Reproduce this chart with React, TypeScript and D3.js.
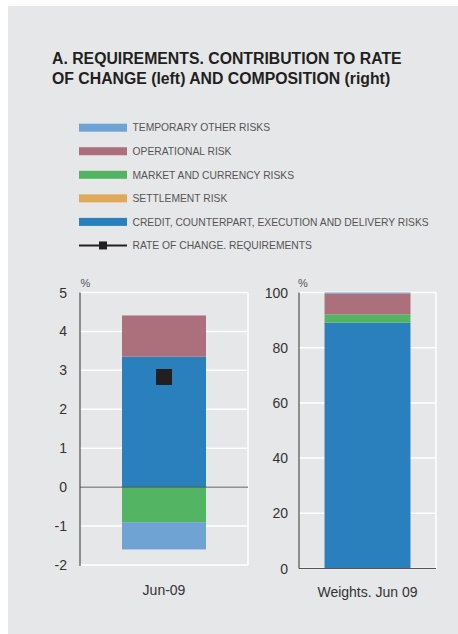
import React from "react";
import * as d3 from "d3";

const seriesNames = [
  "TEMPORARY OTHER RISKS",
  "OPERATIONAL RISK",
  "MARKET AND CURRENCY RISKS",
  "SETTLEMENT RISK",
  "CREDIT, COUNTERPART, EXECUTION AND DELIVERY RISKS",
];
const seriesColors = ["#6fa3d4", "#ab707c", "#53b563", "#e0a85a", "#2a80bd"];
const lineName = "RATE OF CHANGE. REQUIREMENTS";

// contribution to rate of change (left), Jun-09
const contribution = [-0.7, 1.06, -0.9, 0, 3.35];
const rateOfChange = [2.83];
const leftCategories = ["Jun-09"];
const leftTicks = [-2, -1, 0, 1, 2, 3, 4, 5];

// composition weights (right)
const weights = [0.3, 7.6, 3.0, 0, 89.1];
const rightCategories = ["Weights. Jun 09"];
const rightTicks = [0, 20, 40, 60, 80, 100];

const FONT = "'Liberation Sans', Arial, Helvetica, sans-serif";
const STACK_ORDER = [4, 3, 2, 1, 0]; // credit bottom, then settlement, market, operational, temporary

function stackSegments(vals: number[]) {
  let pos = 0;
  let neg = 0;
  const segs: { i: number; y0: number; y1: number }[] = [];
  for (const i of STACK_ORDER) {
    const v = vals[i];
    if (v >= 0) {
      segs.push({ i, y0: pos, y1: pos + v });
      pos += v;
    } else {
      segs.push({ i, y0: neg, y1: neg + v });
      neg += v;
    }
  }
  return segs;
}

export default function App() {
  const W = 458;
  const H = 634;

  // left panel
  const lx0 = 80, lx1 = 248;
  const ly = d3.scaleLinear().domain([-2, 5]).range([565, 292.5]);
  const lxb = d3.scaleBand().domain(leftCategories).range([lx0, lx1]).paddingInner(0).paddingOuter(0.5);

  // right panel
  const rx0 = 299, rx1 = 436;
  const ry = d3.scaleLinear().domain([0, 100]).range([568.5, 292.5]);
  const rxb = d3.scaleBand().domain(rightCategories).range([rx0, rx1]).paddingInner(0).paddingOuter(0.297);

  const leftSegs = stackSegments(contribution);
  const rightSegs = stackSegments(weights);

  const legendY0 = 127.7;
  const legendStep = 23.55;

  return (
    <svg width={W} height={H} style={{ position: "absolute", left: 0, top: 0 }}>
      <rect x={0} y={0} width={W} height={H} fill="#ffffff" />
      <rect x={8} y={6} width={W - 8} height={H - 6} fill="#e6e7e8" />
      <text x={52} y={64} fontFamily={FONT} fontWeight="bold" fontSize={15.8} fill="#231f20">
        A. REQUIREMENTS. CONTRIBUTION TO RATE
      </text>
      <text x={52} y={83.5} fontFamily={FONT} fontWeight="bold" fontSize={15.8} fill="#231f20">
        OF CHANGE (left) AND COMPOSITION (right)
      </text>

      {/* legend */}
      {seriesNames.map((n, k) => {
        const cy = legendY0 + k * legendStep;
        return (
          <g key={n}>
            <rect x={79} y={cy - 4} width={48} height={8} fill={seriesColors[k]} />
            <text x={132.5} y={cy + 3.7} fontFamily={FONT} fontSize={10.3} fill="#555">
              {n}
            </text>
          </g>
        );
      })}
      {(() => {
        const cy = legendY0 + 5 * legendStep;
        return (
          <g>
            <line x1={79} x2={127} y1={cy} y2={cy} stroke="#231f20" strokeWidth={2} />
            <rect x={99} y={cy - 4} width={8} height={8} fill="#231f20" />
            <text x={132.5} y={cy + 3.7} fontFamily={FONT} fontSize={10.3} fill="#555">
              {lineName}
            </text>
          </g>
        );
      })()}

      {/* left chart */}
      <g>
        {leftTicks.map((t) => (
          <line key={t} x1={lx0} x2={lx1} y1={ly(t)} y2={ly(t)} stroke="#ffffff" strokeWidth={1.5} />
        ))}
        <line x1={lx1} x2={lx1} y1={ly(5)} y2={ly(-2)} stroke="#ffffff" strokeWidth={1.5} />
        {leftTicks.map((t) => (
          <text key={t} x={67} y={ly(t) + 5} textAnchor="end" fontFamily={FONT} fontSize={14} fill="#333">
            {t}
          </text>
        ))}
        <text x={80.5} y={287} fontFamily={FONT} fontSize={11} fill="#555">%</text>
        {leftCategories.map((c) =>
          leftSegs.map((s) => (
            <rect
              key={c + s.i}
              x={lxb(c)!}
              width={lxb.bandwidth()}
              y={ly(Math.max(s.y0, s.y1))}
              height={Math.abs(ly(s.y0) - ly(s.y1))}
              fill={seriesColors[s.i]}
            />
          ))
        )}
        <line x1={lx0} x2={lx1} y1={ly(0)} y2={ly(0)} stroke="#555" strokeWidth={1} />
        <line x1={lx0} x2={lx0} y1={ly(5)} y2={ly(-2) + 1} stroke="#333" strokeWidth={1} />
        {leftCategories.map((c, k) => (
          <rect
            key={"m" + c}
            x={lxb(c)! + lxb.bandwidth() / 2 - 8}
            y={ly(rateOfChange[k]) - 8}
            width={16}
            height={16}
            fill="#231f20"
          />
        ))}
        {leftCategories.map((c) => (
          <text key={"l" + c} x={lxb(c)! + lxb.bandwidth() / 2} y={595} textAnchor="middle" fontFamily={FONT} fontSize={14} fill="#333">
            {c}
          </text>
        ))}
      </g>

      {/* right chart */}
      <g>
        {rightTicks.map((t) => (
          <line key={t} x1={rx0} x2={rx1} y1={ry(t)} y2={ry(t)} stroke="#ffffff" strokeWidth={1.5} />
        ))}
        <line x1={rx1} x2={rx1} y1={ry(100)} y2={ry(0)} stroke="#ffffff" strokeWidth={1.5} />
        {rightTicks.map((t) => (
          <text key={t} x={288} y={ry(t) + 5} textAnchor="end" fontFamily={FONT} fontSize={14} fill="#333">
            {t}
          </text>
        ))}
        <text x={298} y={287} fontFamily={FONT} fontSize={11} fill="#555">%</text>
        {rightCategories.map((c) =>
          rightSegs.map((s) => (
            <rect
              key={c + s.i}
              x={rxb(c)!}
              width={rxb.bandwidth()}
              y={ry(Math.max(s.y0, s.y1))}
              height={Math.abs(ry(s.y0) - ry(s.y1))}
              fill={seriesColors[s.i]}
            />
          ))
        )}
        <line x1={rx0} x2={rx1} y1={ry(0)} y2={ry(0)} stroke="#555" strokeWidth={1} />
        <line x1={rx0} x2={rx0} y1={ry(100)} y2={ry(0)} stroke="#333" strokeWidth={1} />
        {rightCategories.map((c) => (
          <text key={"l" + c} x={rxb(c)! + rxb.bandwidth() / 2} y={597} textAnchor="middle" fontFamily={FONT} fontSize={14} fill="#333">
            {c}
          </text>
        ))}
      </g>
    </svg>
  );
}
